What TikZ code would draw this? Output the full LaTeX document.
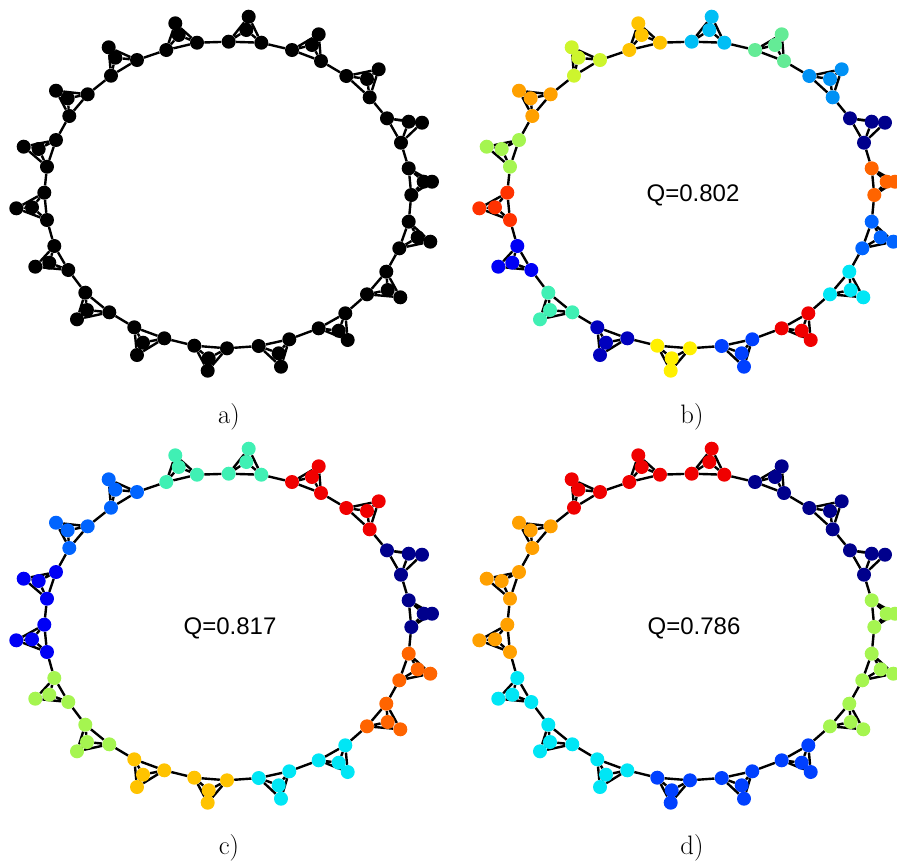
\documentclass[tikz,border=0pt]{standalone}
\usepackage{fontspec}
\usepackage{tikz}
\usetikzlibrary{backgrounds}
\newfontfamily\qfont{Liberation Sans}

% jet colours
\definecolor{jnavy}{RGB}{0,0,140}
\definecolor{jdark}{RGB}{0,0,190}
\definecolor{jblue}{RGB}{0,0,245}
\definecolor{jmid}{RGB}{0,64,255}
\definecolor{jroyal}{RGB}{0,100,255}
\definecolor{jdodger}{RGB}{0,145,245}
\definecolor{jsky}{RGB}{0,190,245}
\definecolor{jcyan}{RGB}{0,230,245}
\definecolor{jaqua}{RGB}{64,240,180}
\definecolor{jmint}{RGB}{100,235,150}
\definecolor{jlime}{RGB}{165,245,80}
\definecolor{jchart}{RGB}{205,245,45}
\definecolor{jyellow}{RGB}{255,240,0}
\definecolor{jgold}{RGB}{255,195,0}
\definecolor{jorange}{RGB}{255,160,0}
\definecolor{jdorange}{RGB}{255,100,0}
\definecolor{jtomato}{RGB}{255,50,0}
\definecolor{jred}{RGB}{240,0,0}

% clique / ring-node A / ring-node B / tip / middle
\def\cliquelayout{1/1.7/-153.3/34.3/-152.3/21.7/-178.3/19.3/-165,
  2/65/-145/94/-134/91.7/-160.7/85/-150,
  3/119.3/-119/142.7/-97.7/151.7/-125.7/140/-116,
  4/160/-76.7/174/-52.3/195/-72.3/181.7/-73.3,
  5/181.7/-26.7/184.3/0/205/-13.3/196.7/-13.3,
  6/181.7/26.7/172.3/53.3/203.3/46.7/190.7/42.3,
  7/159.3/76.7/140/99.3/173.3/102.3/160.7/95,
  8/118.3/118.3/91.7/133.3/120.7/145/111.7/135.7,
  9/62.3/144.3/31.7/151/54/171.7/51.7/158.3,
  10/0/153.3/-32.7/150.7/-19.3/175.7/-18.3/163.3,
  11/-62.7/143.3/-92.7/132.3/-90/160/-84/147.7,
  12/-117.7/117.3/-141.7/97.7/-150/124.3/-140/115,
  13/-158.7/75/-172.7/51/-191.7/71.7/-177.7/67.7,
  14/-180/25/-182.7/-2.3/-210.7/13.3/-195/12.3,
  15/-180/-28.3/-171/-55/-203.3/-48.3/-188.3/-46,
  16/-157.7/-79/-139.3/-100.7/-171/-104.3/-159.3/-96.7,
  17/-116/-119.3/-90/-135/-118.3/-147.7/-111.7/-137.3,
  18/-60.7/-145/-30/-152.3/-51.7/-171.7/-48.3/-160}

% #1 panel prefix, #2 colour array
\newcommand{\cliquering}[2]{%
  \foreach \i/\ax/\ay/\bx/\by/\tx/\ty/\mx/\my in \cliquelayout {
    \pgfmathsetmacro{\col}{#2[\i-1]}
    \node[vertex=\col] (#1\i a) at (\ax,\ay) {};
    \node[vertex=\col] (#1\i b) at (\bx,\by) {};
    \node[vertex=\col] (#1\i m) at (\mx,\my) {};
    \node[vertex=\col] (#1\i t) at (\tx,\ty) {};
  }
  \begin{scope}[on background layer]
    \foreach \i [evaluate=\i as \j using {int(mod(\i,18)+1)}] in {1,...,18} {
      \draw[link] (#1\i a) -- (#1\i b) -- (#1\i t) -- (#1\i a) -- (#1\i m) -- (#1\i b);
      \draw[link] (#1\i m) -- (#1\i t);
      \draw[link] (#1\i b) -- (#1\j a);
    }
  \end{scope}
}

\begin{document}
\begin{tikzpicture}[x=0.75pt,y=-0.75pt,
    vertex/.style={circle,fill=#1,inner sep=0pt,minimum size=10.5pt},
    link/.style={black,line width=1.8pt,line join=round},
    panel/.style={font=\fontsize{20}{24}\selectfont,anchor=base},
    score/.style={font=\qfont\fontsize{18}{22}\selectfont}]
  \useasboundingbox (0,0) rectangle (897,861);

  % a) plain ring of cliques
  \begin{scope}[shift={(227,195)}]
    \cliquering{a}{{"black","black","black","black","black","black","black","black","black",
      "black","black","black","black","black","black","black","black","black"}}
  \end{scope}
  \node[panel] (la) at (229,423) {a)};

  % b)
  \begin{scope}[shift={(690,195)}]
    \cliquering{b}{{"jsky","jmint","jdodger","jnavy","jdorange","jroyal","jcyan","jred","jmid",
      "jyellow","jdark","jaqua","jblue","jtomato","jlime","jorange","jchart","jgold"}}
    \node[score] (qb) at (3,0) {Q=0.802};
  \end{scope}
  \node[panel] (lb) at (692,423) {b)};

  % c)
  \begin{scope}[shift={(227,627)}]
    \cliquering{c}{{"jaqua","jred","jred","jnavy","jnavy","jdorange","jdorange","jcyan","jcyan",
      "jgold","jgold","jlime","jlime","jblue","jblue","jroyal","jroyal","jaqua"}}
    \node[score] (qc) at (3,1) {Q=0.817};
  \end{scope}
  \node[panel] (lc) at (229,854) {c)};

  % d)
  \begin{scope}[shift={(690,627)}]
    \cliquering{d}{{"jred","jnavy","jnavy","jnavy","jlime","jlime","jlime","jmid","jmid",
      "jmid","jcyan","jcyan","jcyan","jorange","jorange","jorange","jred","jred"}}
    \node[score] (qd) at (4,1) {Q=0.786};
  \end{scope}
  \node[panel] (ld) at (692,854) {d)};
\end{tikzpicture}
\end{document}
